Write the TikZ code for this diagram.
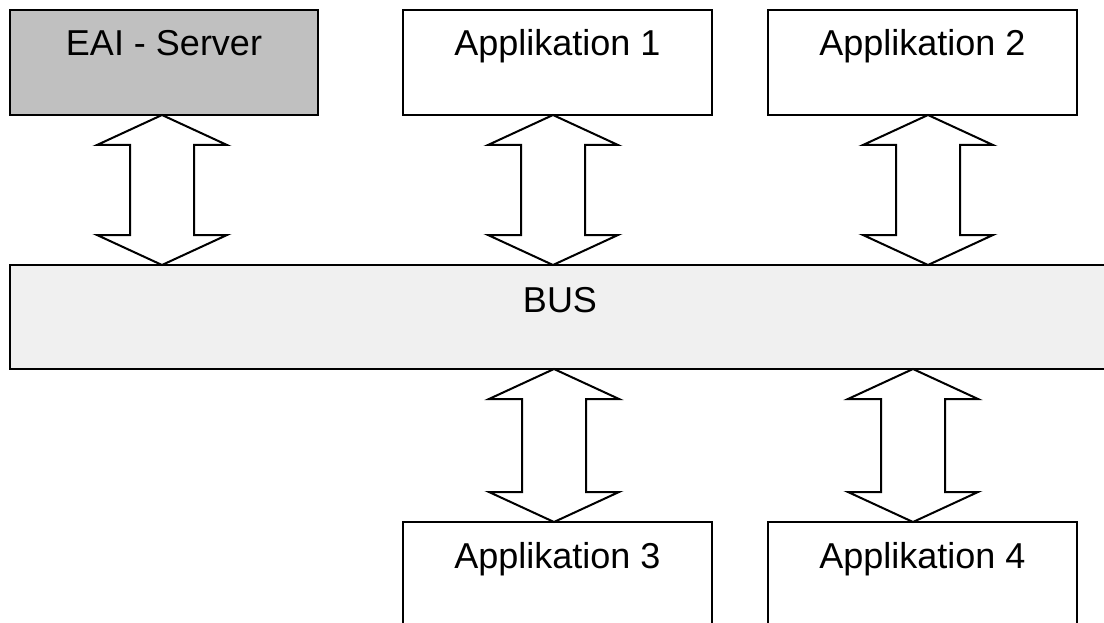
\documentclass[tikz,border=0pt]{standalone}
\usepackage{fontspec}
\setmainfont{Liberation Sans}
\usetikzlibrary{calc}
\tikzset{
  box/.style={draw=black, line width=2pt, fill=white, minimum width=309pt, minimum height=105pt, inner sep=0pt, outer sep=0pt},
  lbl/.style={anchor=base, inner sep=0pt, font=\fontsize{36}{42}\selectfont},
  arr/.style={draw=black, line width=2pt, fill=white, line join=miter}
}
\newcommand\dblarrow[2]{%
  \draw[arr] let \p1=(#1), \p2=(#2) in
    (\x1,\y1) -- (\x1+65pt,\y1-30pt) -- (\x1+32pt,\y1-30pt) -- (\x1+32pt,\y2+30pt)
    -- (\x1+65pt,\y2+30pt) -- (\x2,\y2) -- (\x1-65pt,\y2+30pt) -- (\x1-32pt,\y2+30pt)
    -- (\x1-32pt,\y1-30pt) -- (\x1-65pt,\y1-30pt) -- cycle;}
\begin{document}
\begin{tikzpicture}[x=1pt,y=-1pt]
\useasboundingbox (0,0) rectangle (1104,623);
\clip (0,0) rectangle (1104,623);
\fill[white] (0,0) rectangle (1104,623);
% boxes
\node[box, fill={rgb,255:red,192;green,192;blue,192}, minimum width=308pt] (eai) at (164,62.5) {};
\node[box] (app1) at (557.5,62.5) {};
\node[box] (app2) at (922.5,62.5) {};
\node[box, fill={rgb,255:red,240;green,240;blue,240}, minimum width=1100pt, minimum height=104pt] (bus) at (560,317) {};
\node[box] (app3) at (557.5,574.5) {};
\node[box] (app4) at (922.5,574.5) {};
% labels
\node[lbl] (teai) at ([yshift=-46pt]eai.north) {EAI - Server};
\node[lbl] (tapp1) at ([yshift=-46pt]app1.north) {Applikation 1};
\node[lbl] (tapp2) at ([yshift=-46pt]app2.north) {Applikation 2};
\node[lbl] (tbus) at ([yshift=-47pt]bus.north) {BUS};
\node[lbl] (tapp3) at ([yshift=-46pt]app3.north) {Applikation 3};
\node[lbl] (tapp4) at ([yshift=-46pt]app4.north) {Applikation 4};
% arrow end points
\coordinate (a0t) at (eai.south -| 162,0);
\coordinate (a0b) at (bus.north -| 162,0);
\coordinate (a1t) at (app1.south -| 553,0);
\coordinate (a1b) at (bus.north -| 553,0);
\coordinate (a2t) at (app2.south -| 928,0);
\coordinate (a2b) at (bus.north -| 928,0);
\coordinate (a3t) at (bus.south -| 554,0);
\coordinate (a3b) at (app3.north -| 554,0);
\coordinate (a4t) at (bus.south -| 913,0);
\coordinate (a4b) at (app4.north -| 913,0);
\dblarrow{a0t}{a0b}
\dblarrow{a1t}{a1b}
\dblarrow{a2t}{a2b}
\dblarrow{a3t}{a3b}
\dblarrow{a4t}{a4b}
\end{tikzpicture}
\end{document}
